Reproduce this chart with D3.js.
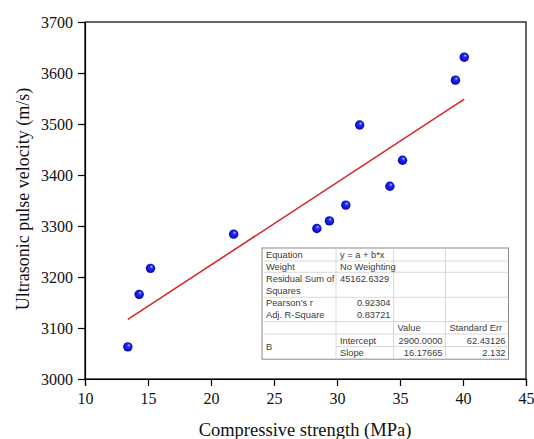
<!DOCTYPE html>
<html>
<head>
<meta charset="utf-8">
<script src="https://cdn.jsdelivr.net/npm/d3@7"></script>
<style>
  body { margin: 0; background: #fff; }
  svg { display: block; }
</style>
</head>
<body>
<script>
var strength = [13.4, 14.3, 15.2, 21.8, 28.4, 29.4, 30.7, 31.8, 34.2, 35.2, 39.4, 40.1];
var velocity = [3063, 3166, 3217, 3284, 3295, 3310, 3341, 3498, 3378, 3429, 3586, 3631];
var fitIntercept = 2900, fitSlope = 16.17665;
var xTicks = [10, 15, 20, 25, 30, 35, 40, 45];
var yTicks = [3000, 3100, 3200, 3300, 3400, 3500, 3600, 3700];

// fit report table rows
var tableRows = [
  ["Equation", "y = a + b*x", "", ""],
  ["Weight", "No Weighting", "", ""],
  ["Residual Sum of\nSquares", "45162.6329", "", ""],
  ["Pearson's r", "0.92304", "", ""],
  ["Adj. R-Square", "0.83721", "", ""],
  ["", "", "Value", "Standard Err"],
  ["B", "Intercept", "2900.0000", "62.43126"],
  ["", "Slope", "16.17665", "2.132"]
];

var width = 534, height = 439;
var margin = {top: 22, right: 8, bottom: 60, left: 85};

var svg = d3.select("body").append("svg")
    .attr("width", width)
    .attr("height", height);

var x = d3.scaleLinear().domain([10, 45]).range([margin.left, width - margin.right]);
var y = d3.scaleLinear().domain([3000, 3700]).range([height - margin.bottom, margin.top]);

var defs = svg.append("defs");
var grad = defs.append("radialGradient")
    .attr("id", "ball")
    .attr("cx", "0.5").attr("cy", "0.5").attr("r", "0.55")
    .attr("fx", "0.62").attr("fy", "0.3");
grad.append("stop").attr("offset", "0%").attr("stop-color", "#c8d4ff");
grad.append("stop").attr("offset", "30%").attr("stop-color", "#2a2cff");
grad.append("stop").attr("offset", "100%").attr("stop-color", "#0000a8");

// frame
svg.append("rect")
    .attr("x", x(10)).attr("y", y(3700))
    .attr("width", x(45) - x(10)).attr("height", y(3000) - y(3700))
    .attr("fill", "none").attr("stroke", "#000").attr("stroke-width", 1.2);

var xAxis = svg.append("g")
    .attr("transform", "translate(0," + y(3000) + ")")
    .call(d3.axisBottom(x).tickValues(xTicks).tickSize(7).tickPadding(7).tickFormat(d3.format("d")));
var yAxis = svg.append("g")
    .attr("transform", "translate(" + x(10) + ",0)")
    .call(d3.axisLeft(y).tickValues(yTicks).tickSize(7).tickPadding(5).tickFormat(d3.format("d")));

[xAxis, yAxis].forEach(function(g) {
  g.select(".domain").attr("stroke-width", 1.2);
  g.selectAll(".tick line").attr("stroke-width", 1.2);
  g.selectAll("text")
    .attr("font-family", "'Liberation Serif', 'Times New Roman', serif")
    .attr("font-size", 16)
    .attr("fill", "#111");
});

svg.append("text")
    .attr("x", 305)
    .attr("y", 436)
    .attr("text-anchor", "middle")
    .attr("font-family", "'Liberation Serif', 'Times New Roman', serif")
    .attr("font-size", 18.5)
    .attr("fill", "#111")
    .text("Compressive strength (MPa)");

svg.append("text")
    .attr("transform", "translate(29," + 199 + ") rotate(-90)")
    .attr("text-anchor", "middle")
    .attr("font-family", "'Liberation Serif', 'Times New Roman', serif")
    .attr("font-size", 18)
    .attr("fill", "#111")
    .text("Ultrasonic pulse velocity (m/s)");

// fitted line over the data range
var xmin = d3.min(strength), xmax = d3.max(strength);
svg.append("line")
    .attr("x1", x(xmin)).attr("y1", y(fitIntercept + fitSlope * xmin))
    .attr("x2", x(xmax)).attr("y2", y(fitIntercept + fitSlope * xmax))
    .attr("stroke", "#d42a2a").attr("stroke-width", 1.6);

svg.append("g").selectAll("circle")
    .data(strength.map(function(d, i) { return [d, velocity[i]]; }))
    .enter().append("circle")
    .attr("cx", function(d) { return x(d[0]); })
    .attr("cy", function(d) { return y(d[1]); })
    .attr("r", 4.7)
    .attr("fill", "url(#ball)");

// fit report table
var tx = 262, ty = 248;
var colX = [0, 74, 131.5, 183.5, 246.5];
var rowH = [13, 11.3, 25, 11.5, 12.7, 12.5, 12.6, 12.6];
var rowY = [0];
rowH.forEach(function(h, i) { rowY.push(rowY[i] + h); });

var tbl = svg.append("g").attr("transform", "translate(" + tx + "," + ty + ")");
tbl.append("rect")
    .attr("width", colX[4]).attr("height", rowY[rowY.length - 1])
    .attr("fill", "#fff").attr("stroke", "#8a8a8a").attr("stroke-width", 1);

// vertical lines
colX.slice(1, 4).forEach(function(cx) {
  tbl.append("line").attr("x1", cx).attr("x2", cx)
      .attr("y1", 0).attr("y2", rowY[rowY.length - 1])
      .attr("stroke", "#cfcfcf").attr("stroke-width", 0.8);
});
// horizontal lines
rowY.slice(1, rowY.length - 1).forEach(function(ry, i) {
  if (i === 3) return; // Pearson / Adj. R-Square share a block
  var startX = (i === 6) ? colX[1] : 0;
  tbl.append("line").attr("x1", startX).attr("x2", colX[4])
      .attr("y1", ry).attr("y2", ry)
      .attr("stroke", "#cfcfcf").attr("stroke-width", 0.8);
});

tableRows.forEach(function(row, r) {
  row.forEach(function(cell, c) {
    if (!cell) return;
    var lines = cell.split("\n");
    var numeric = /^[0-9.]+$/.test(cell);
    var anchor = (numeric && r !== 2) ? "end" : "start";
    var px = anchor === "end" ? colX[c + 1] - 3 : colX[c] + 4;
    var cy = rowY[r] + rowH[r] / 2;
    if (r === 6 && c === 0) cy = rowY[6] + (rowH[6] + rowH[7]) / 2;
    if (r === 2) cy = rowY[r] + 6.8;
    lines.forEach(function(t, k) {
      tbl.append("text")
          .attr("x", px)
          .attr("y", cy + k * 11.5)
          .attr("dy", "0.35em")
          .attr("text-anchor", anchor)
          .attr("font-family", "'Liberation Sans', Arial, sans-serif")
          .attr("font-size", 9.3)
          .attr("fill", "#3a3a3a")
          .text(t);
    });
  });
});
</script>
</body>
</html>
